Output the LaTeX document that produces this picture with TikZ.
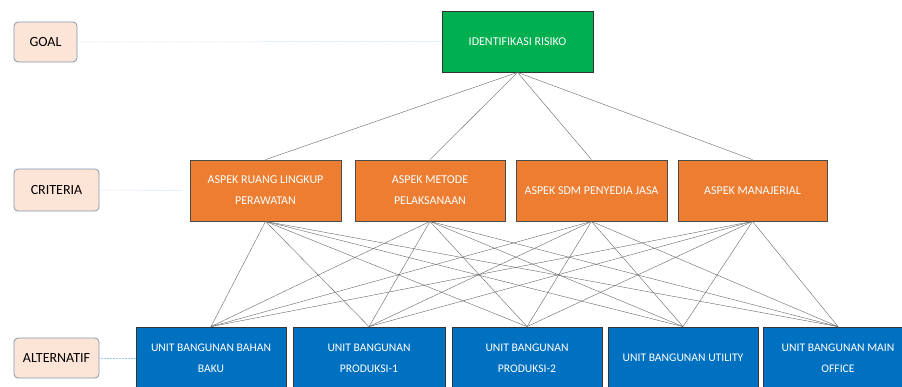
\documentclass[tikz,border=0pt]{standalone}
\usepackage{fontspec}
\setmainfont{Carlito}
\begin{document}
\begin{tikzpicture}[x=1pt,y=-1pt,
  lvl/.style={draw=black!80,line width=0.8pt,text=white,font=\fontsize{12}{21}\selectfont,align=center,inner sep=0pt},
  goalbox/.style={lvl,fill={rgb,255:red,0;green,176;blue,80}},
  critbox/.style={lvl,fill={rgb,255:red,237;green,125;blue,49},draw=black!70},
  altbox/.style={lvl,fill={rgb,255:red,0;green,112;blue,192},draw=black!80,font=\fontsize{11.6}{21}\selectfont},
  tagbox/.style={draw={rgb,255:red,132;green,151;blue,176},line width=0.8pt,rounded corners=4pt,
    fill={rgb,255:red,252;green,228;blue,214},text=black,font=\fontsize{14}{16}\selectfont,inner sep=0pt},
  tagline/.style={draw={rgb,255:red,157;green,195;blue,230},densely dotted,line width=0.5pt},
  link/.style={draw=black!60,line width=0.4pt}]
\useasboundingbox (0,0) rectangle (902,386);

% level tags on the left
\node[tagbox,minimum width=63,minimum height=40] (tgoal) at (45.5,42) {GOAL};
\node[tagbox,minimum width=85,minimum height=42] (tcrit) at (56.5,190) {CRITERIA};
\node[tagbox,minimum width=85,minimum height=40] (talt) at (56.5,358) {ALTERNATIF};

% goal
\node[goalbox,minimum width=151,minimum height=61] (g) at (517.5,41.5) {IDENTIFIKASI RISIKO};

% criteria
\node[critbox,minimum width=151,minimum height=61] (c1) at (265.5,190.5) {ASPEK RUANG LINGKUP\\PERAWATAN};
\node[critbox,minimum width=150,minimum height=61] (c2) at (430,190.5) {ASPEK METODE\\PELAKSANAAN};
\node[critbox,minimum width=151,minimum height=61] (c3) at (591.5,190.5) {ASPEK SDM PENYEDIA JASA};
\node[critbox,minimum width=149,minimum height=61] (c4) at (752.5,190.5) {ASPEK MANAJERIAL};

% alternatives
\node[altbox,minimum width=150,minimum height=62] (a1) at (211,358) {UNIT BANGUNAN BAHAN\\BAKU};
\node[altbox,minimum width=152,minimum height=62] (a2) at (369,358) {UNIT BANGUNAN\\PRODUKSI-1};
\node[altbox,minimum width=150,minimum height=62] (a3) at (527,358) {UNIT BANGUNAN\\PRODUKSI-2};
\node[altbox,minimum width=150,minimum height=62] (a4) at (683,358) {UNIT BANGUNAN UTILITY};
\node[altbox,minimum width=150,minimum height=62] (a5) at (838,358) {UNIT BANGUNAN MAIN\\OFFICE};

% tag guide lines
\draw[tagline] (tgoal.east) -- (g.west);
\draw[tagline] (tcrit.east) -- ([xshift=-7pt]c1.west);
\draw[tagline] (talt.east) -- (a1.west);

% goal to criteria
\foreach \c in {c1,c2,c3,c4}
  \draw[link] (g.south) -- (\c.north);

% criteria to alternatives
\foreach \c in {c1,c2,c3,c4}
  \foreach \a in {a1,a2,a3,a4,a5}
    \draw[link] (\c.south) -- (\a.north);
\end{tikzpicture}
\end{document}
